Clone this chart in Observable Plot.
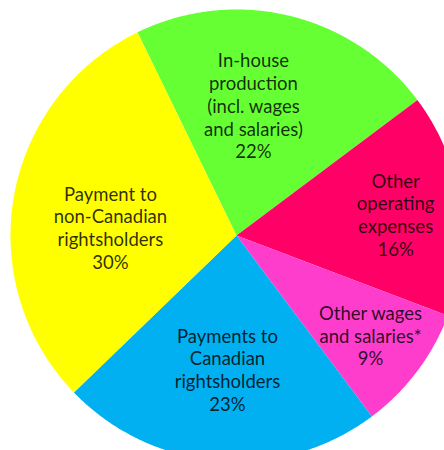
<!DOCTYPE html>
<html>
<head>
<meta charset="utf-8">
<script src="https://cdn.jsdelivr.net/npm/d3@7"></script>
<script src="https://cdn.jsdelivr.net/npm/@observablehq/plot@0.6"></script>
<style>
  html, body { margin: 0; padding: 0; background: #fff; overflow: hidden; }
  svg { overflow: hidden; display: block; }
</style>
</head>
<body>
<div id="chart"></div>
<script>
// ---- data ----
const categories = [
  "In-house production (incl. wages and salaries)",
  "Other operating expenses",
  "Other wages and salaries*",
  "Payments to Canadian rightsholders",
  "Payment to non-Canadian rightsholders"
];
const labelLines = [
  "In-house\nproduction\n(incl. wages\nand salaries)",
  "Other\noperating\nexpenses",
  "Other wages\nand salaries*",
  "Payments to\nCanadian\nrightsholders",
  "Payment to\nnon-Canadian\nrightsholders"
];
const values = [22, 16, 9, 23, 30]; // percent
const colors = ["#66ff33", "#ff0066", "#ff3dcc", "#00b0f0", "#ffff00"];

// ---- layout (not data) ----
const startAngleDeg = -26;            // clockwise from 12 o'clock
const labelAnchors = [                // label centres, in pie-radius units (y up)
  [0.075, 0.575],
  [0.704, 0.093],
  [0.593, -0.442],
  [-0.04, -0.593],
  [-0.558, 0.035]
];

// ---- build slice polygons from the values ----
const total = d3.sum(values);
const slices = [];
let acc = 0;
values.forEach((v, i) => {
  const a0 = startAngleDeg + acc / total * 360;
  const a1 = startAngleDeg + (acc + v) / total * 360;
  acc += v;
  slices.push({cat: categories[i], x: 0, y: 0});
  const n = Math.max(2, Math.ceil(a1 - a0) * 2);
  for (let j = 0; j <= n; ++j) {
    const a = (a0 + (a1 - a0) * j / n) * Math.PI / 180;
    slices.push({cat: categories[i], x: Math.sin(a), y: Math.cos(a)});
  }
});

const labels = categories.map((c, i) => ({
  cat: c,
  x: labelAnchors[i][0],
  y: labelAnchors[i][1],
  text: `${labelLines[i]}\n${values[i]}%`
}));

const chart = Plot.plot({
  width: 444,
  height: 450,
  margin: 0,
  x: {domain: [-1, 1], range: [10, 462], axis: null},
  y: {domain: [-1, 1], range: [461, 9], axis: null},
  color: {domain: categories, range: colors},
  style: {background: "#fff", fontFamily: "Lato, 'Open Sans', sans-serif"},
  marks: [
    Plot.line(slices, {x: "x", y: "y", z: "cat", fill: "cat", stroke: null, curve: "linear-closed", clip: true}),
    Plot.text(labels, {
      x: "x", y: "y", text: "text",
      fontSize: 18.5, lineHeight: 1.23,
      fill: "#000", fillOpacity: 0.82,
      textAnchor: "middle"
    })
  ]
});
document.getElementById("chart").appendChild(chart);
</script>
</body>
</html>
